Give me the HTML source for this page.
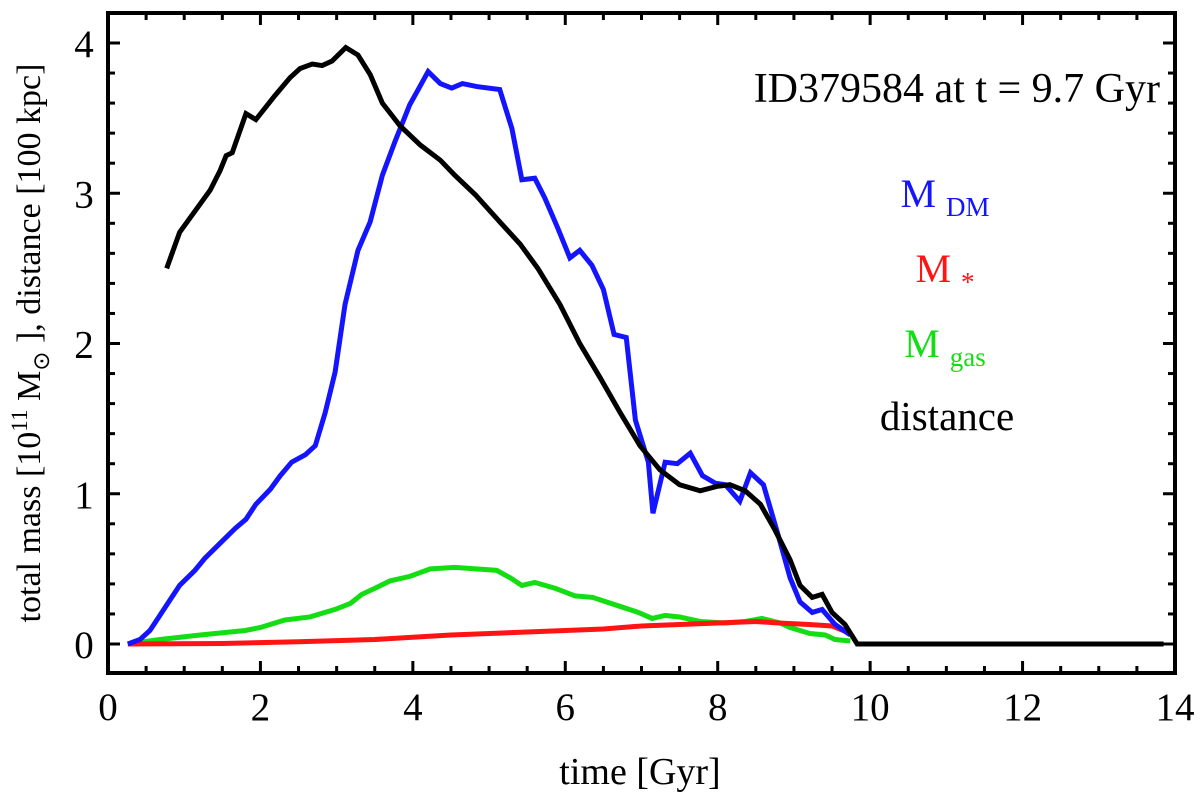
<!DOCTYPE html>
<html><head><meta charset="utf-8"><style>
html,body{margin:0;padding:0;background:#fff;}
svg{display:block;}
svg text{font-family:"Liberation Serif",serif;}
</style></head><body>
<svg id="chart" width="1200" height="806" viewBox="0 0 1200 806">
<g id="ticks"></g>
<g id="series"></g>
<rect x="108" y="13" width="1067" height="660" fill="none" stroke="#000" stroke-width="4"/>
<g id="labels" font-size="39" text-anchor="middle"></g>
<text x="640" y="784" font-size="38" text-anchor="middle">time [Gyr]</text>
<g transform="translate(40,343) rotate(-90)">
<text x="0" y="0" font-size="34" text-anchor="middle" style="font-family:'Liberation Serif',serif">total mass [10<tspan font-size="23" dy="-13">11</tspan><tspan dy="13"> M</tspan><tspan font-size="23" dy="9" style="font-family:'DejaVu Sans',sans-serif">&#x2299;</tspan><tspan dy="-9"> ], distance [100 kpc]</tspan></text>
</g>
<text x="1160" y="102" font-size="42" text-anchor="end">ID379584 at t = 9.7 Gyr</text>
<text x="945" y="207" font-size="40" fill="#1414ff" text-anchor="middle">M <tspan font-size="27" dy="9">DM</tspan></text>
<text x="945" y="282" font-size="40" fill="#ff1414" text-anchor="middle">M <tspan font-size="27" dy="9">*</tspan></text>
<text x="945" y="357" font-size="40" fill="#14dd14" text-anchor="middle">M <tspan font-size="27" dy="9">gas</tspan></text>
<text x="947" y="430" font-size="41" fill="#000" text-anchor="middle">distance</text>
</svg>
<script>
const xTicks=[0,2,4,6,8,10,12,14];
const yTicks=[0,1,2,3,4];
const distT=[0.77,0.94,1.34,1.47,1.55,1.63,1.81,1.94,2.19,2.39,2.52,2.68,2.81,2.94,3.12,3.28,3.44,3.6,3.83,4.1,4.36,4.55,4.82,5.14,5.41,5.64,5.93,6.19,6.46,6.72,6.98,7.24,7.5,7.77,8.0,8.16,8.36,8.56,8.75,8.95,9.08,9.24,9.37,9.5,9.67,9.83,13.85];
const distV=[2.5,2.74,3.02,3.15,3.25,3.27,3.53,3.49,3.65,3.77,3.83,3.86,3.85,3.88,3.97,3.92,3.79,3.6,3.45,3.32,3.22,3.12,2.99,2.81,2.66,2.5,2.26,2.0,1.77,1.54,1.32,1.16,1.06,1.02,1.05,1.06,1.02,0.93,0.76,0.56,0.39,0.31,0.33,0.21,0.13,0,0];
const dmT=[0.26,0.42,0.55,0.68,0.81,0.94,1.14,1.27,1.47,1.67,1.81,1.94,2.13,2.26,2.41,2.59,2.72,2.85,2.98,3.11,3.28,3.44,3.6,3.77,3.96,4.07,4.2,4.36,4.51,4.65,4.84,5.14,5.3,5.43,5.6,5.73,5.9,6.06,6.19,6.35,6.5,6.64,6.8,6.92,7.09,7.15,7.31,7.47,7.64,7.8,7.97,8.1,8.29,8.43,8.6,8.79,8.95,9.08,9.24,9.37,9.54,9.74];
const dmV=[0,0.03,0.09,0.19,0.29,0.39,0.49,0.57,0.67,0.77,0.83,0.93,1.03,1.12,1.21,1.26,1.32,1.54,1.81,2.26,2.62,2.81,3.12,3.35,3.59,3.69,3.81,3.73,3.70,3.73,3.71,3.69,3.43,3.09,3.1,2.97,2.77,2.57,2.62,2.52,2.36,2.06,2.04,1.49,1.21,0.87,1.21,1.2,1.27,1.12,1.07,1.06,0.95,1.14,1.06,0.73,0.44,0.28,0.21,0.23,0.13,0.06];
const gasT=[0.26,0.68,1.21,1.8,2.0,2.32,2.65,2.98,3.18,3.33,3.5,3.7,3.96,4.23,4.55,5.1,5.28,5.43,5.6,5.87,6.13,6.36,6.72,6.96,7.14,7.31,7.5,7.77,8.1,8.36,8.58,8.82,8.95,9.21,9.41,9.54,9.74];
const gasV=[0,0.03,0.06,0.09,0.11,0.16,0.18,0.23,0.27,0.33,0.37,0.42,0.45,0.50,0.51,0.49,0.44,0.39,0.41,0.37,0.32,0.31,0.25,0.21,0.17,0.19,0.18,0.15,0.14,0.15,0.17,0.14,0.11,0.07,0.06,0.03,0.02];
const starT=[0.26,1.5,2.5,3.5,4.5,5.5,6.5,7.0,7.5,8.0,8.5,8.8,9.2,9.5,9.74];
const starV=[0,0.003,0.015,0.03,0.06,0.08,0.1,0.12,0.13,0.14,0.15,0.14,0.13,0.12,0.07];

const NS='http://www.w3.org/2000/svg';
const X0=108,X1=1175,Y0=644,YS=150.25;
const sx=t=>X0+(X1-X0)*t/14;
const sy=v=>Y0-v*YS;
const tg=document.getElementById('ticks'),lg=document.getElementById('labels'),sg=document.getElementById('series');
function ln(x1,y1,x2,y2){const l=document.createElementNS(NS,'line');l.setAttribute('x1',x1);l.setAttribute('y1',y1);l.setAttribute('x2',x2);l.setAttribute('y2',y2);l.setAttribute('stroke','#000');l.setAttribute('stroke-width','3');


tg.appendChild(l);}
for(let t=0;t<=14.001;t+=0.5){const x=sx(t);const L=Math.abs(t-Math.round(t/2)*2)<1e-6?12:7;ln(x,673,x,673-L);ln(x,13,x,13+L);}
for(let v=0;v<=4.2;v+=0.2){const y=sy(v);if(y<13)continue;const L=Math.abs(v-Math.round(v))<1e-6?12:7;ln(108,y,108+L,y);ln(1175,y,1175-L,y);}
xTicks.forEach(t=>{const e=document.createElementNS(NS,'text');e.setAttribute('x',sx(t));e.setAttribute('y',720);e.textContent=t;


lg.appendChild(e);});
yTicks.forEach(v=>{const e=document.createElementNS(NS,'text');e.setAttribute('x',84);e.setAttribute('y',sy(v)+14);e.textContent=v;


lg.appendChild(e);});
function series(T,V,c,name){const p=document.createElementNS(NS,'polyline');p.setAttribute('points',T.map((t,i)=>sx(t)+','+sy(V[i])).join(' '));p.setAttribute('fill','none');p.setAttribute('stroke',c);p.setAttribute('stroke-width','5');p.setAttribute('stroke-linejoin','miter');


sg.appendChild(p);}
series(gasT,gasV,'#14dd14','gas-mass-line');
series(starT,starV,'#ff1414','stellar-mass-line');
series(dmT,dmV,'#1414ff','dm-mass-line');
series(distT,distV,'#000','distance-line');
</script>
</body></html>
